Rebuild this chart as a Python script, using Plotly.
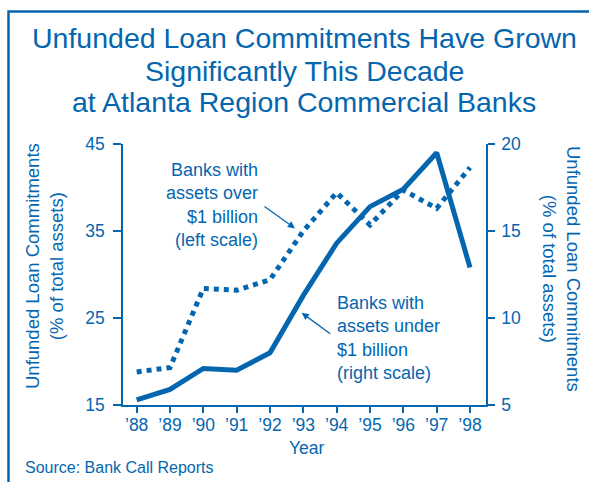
import plotly.graph_objects as go

# Unfunded loan commitments, % of total assets
years = [1988, 1989, 1990, 1991, 1992, 1993, 1994, 1995, 1996, 1997, 1998]
year_labels = ["’88", "’89", "’90", "’91", "’92", "’93", "’94", "’95", "’96", "’97", "’98"]
over_1b = [18.8, 19.3, 28.4, 28.2, 29.4, 35.0, 39.4, 35.7, 39.7, 37.6, 42.3]   # left scale
under_1b = [5.3, 5.9, 7.1, 7.0, 8.0, 11.3, 14.3, 16.4, 17.4, 19.5, 12.9]      # right scale
left_ticks = [15, 25, 35, 45]
right_ticks = [5, 10, 15, 20]

BLUE = "#0566b0"
FONT = "Liberation Sans, Arial, Helvetica, sans-serif"

W, H = 589, 482
ML, MR, MT, MB = 123, 103, 144, 77
PW, PH = W - ML - MR, H - MT - MB


def px(x):
    return (x - ML) / PW


def py(y):
    return (H - MB - y) / PH


fig = go.Figure()
fig.add_trace(go.Scatter(
    x=years, y=over_1b, mode="lines", yaxis="y",
    line=dict(color=BLUE, width=5, dash="dot"), hoverinfo="skip"))
fig.add_trace(go.Scatter(
    x=years, y=under_1b, mode="lines", yaxis="y2",
    line=dict(color=BLUE, width=5), hoverinfo="skip"))

axis_common = dict(
    showgrid=False, zeroline=False, showline=True, linecolor=BLUE, linewidth=1.5,
    ticks="outside", ticklen=7, tickwidth=1.5, tickcolor=BLUE,
    tickfont=dict(family=FONT, size=17.5, color=BLUE),
)

annotations = []
# title, one line per annotation
for text, yc in [("Unfunded Loan Commitments Have Grown", 38),
                 ("Significantly This Decade", 71),
                 ("at Atlanta Region Commercial Banks", 102)]:
    annotations.append(dict(text=text, x=px(304), y=py(yc), xref="paper", yref="paper",
                            xanchor="center", yanchor="middle", showarrow=False,
                            font=dict(family=FONT, size=28.5, color=BLUE)))

# axis titles
annotations.append(dict(text="Unfunded Loan Commitments<br>(% of total assets)",
                        x=px(44), y=py(266), xref="paper", yref="paper",
                        xanchor="center", yanchor="middle", showarrow=False, textangle=-90,
                        font=dict(family=FONT, size=18.5, color=BLUE)))
annotations.append(dict(text="Unfunded Loan Commitments<br>(% of total assets)",
                        x=px(562), y=py(269), xref="paper", yref="paper",
                        xanchor="center", yanchor="middle", showarrow=False, textangle=90,
                        font=dict(family=FONT, size=18.5, color=BLUE)))
annotations.append(dict(text="Year", x=px(306.5), y=py(447.5), xref="paper", yref="paper",
                        xanchor="center", yanchor="middle", showarrow=False,
                        font=dict(family=FONT, size=17.5, color=BLUE)))
annotations.append(dict(text="Source: Bank Call Reports", x=px(23), y=py(467), xref="paper",
                        yref="paper", xanchor="left", yanchor="middle", showarrow=False,
                        font=dict(family=FONT, size=16, color=BLUE)))

# series labels
annotations.append(dict(text="Banks with<br>assets over<br>$1 billion<br>(left scale)",
                        x=px(260), y=py(205), xref="paper", yref="paper",
                        xanchor="right", yanchor="middle", align="right", showarrow=False,
                        font=dict(family=FONT, size=18, color=BLUE)))
annotations.append(dict(text="Banks with<br>assets under<br>$1 billion<br>(right scale)",
                        x=px(335), y=py(338), xref="paper", yref="paper",
                        xanchor="left", yanchor="middle", align="left", showarrow=False,
                        font=dict(family=FONT, size=18, color=BLUE)))
# pointer arrows
annotations.append(dict(text="", x=1992.75, y=35.3, xref="x", yref="y",
                        ax=-32, ay=-23, showarrow=True, arrowhead=2, arrowsize=1.1,
                        arrowwidth=1.3, arrowcolor=BLUE))
annotations.append(dict(text="", x=1992.95, y=10.3, xref="x", yref="y2",
                        ax=30, ay=22, showarrow=True, arrowhead=2, arrowsize=1.1,
                        arrowwidth=1.3, arrowcolor=BLUE))

fig.update_layout(
    width=W, height=H,
    margin=dict(l=ML, r=MR, t=MT, b=MB),
    paper_bgcolor="white", plot_bgcolor="white",
    showlegend=False,
    xaxis=dict(axis_common, range=[1987.59, 1998.48], tickmode="array",
               tickvals=years, ticktext=year_labels, ticklen=6, ticklabelstandoff=-3),
    yaxis=dict(axis_common, range=[15, 45], tickmode="array", tickvals=left_ticks,
               ticklen=8, ticklabelstandoff=5),
    yaxis2=dict(axis_common, range=[5, 20], tickmode="array", tickvals=right_ticks,
                overlaying="y", side="right", ticklabelstandoff=3),
    annotations=annotations,
    shapes=[dict(type="rect", xref="paper", yref="paper",
                 x0=px(8.5), x1=px(W + 20), y0=py(H + 20), y1=py(11.5),
                 line=dict(color=BLUE, width=2.5), fillcolor="rgba(0,0,0,0)", layer="below")],
)

fig.write_html("out.html")
